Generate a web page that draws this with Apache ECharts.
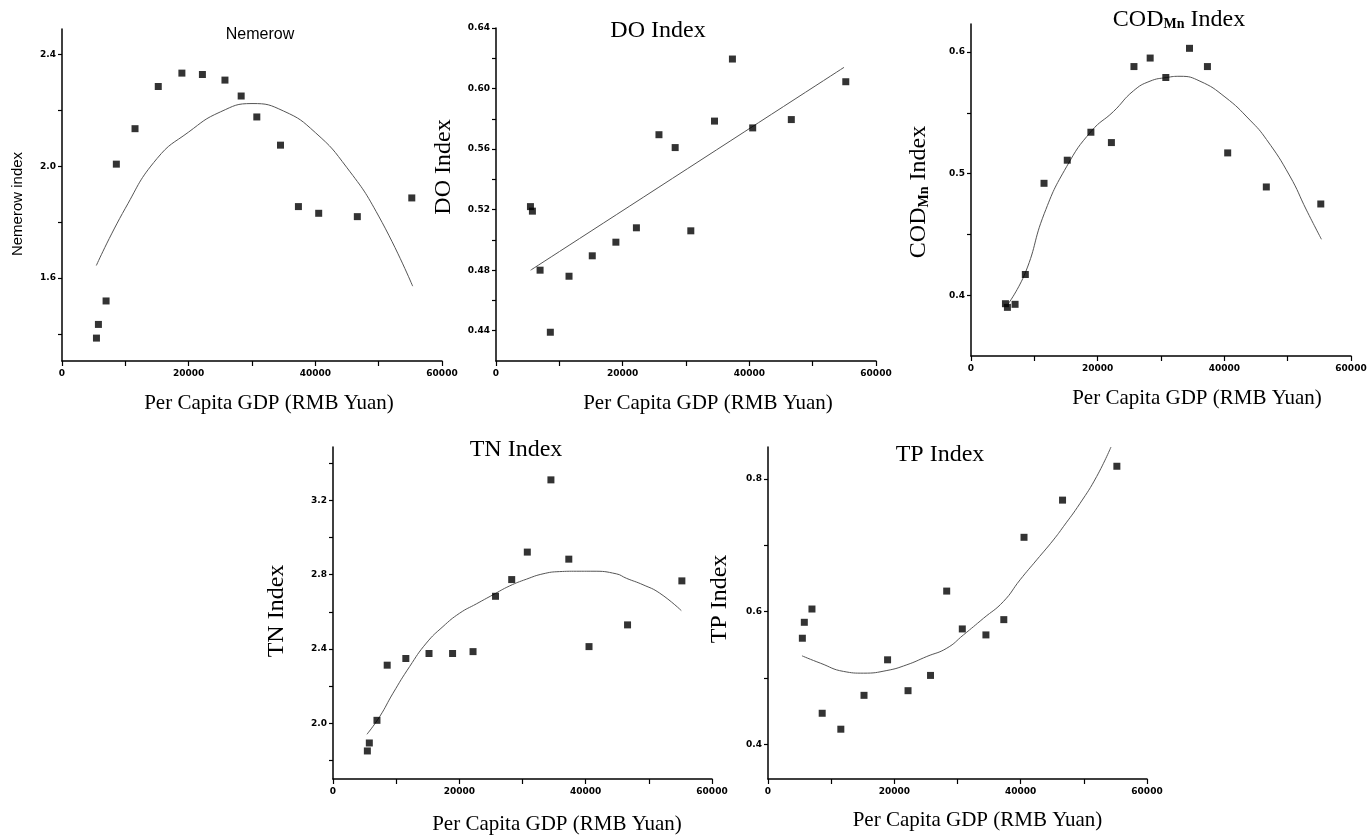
<!DOCTYPE html>
<html>
<head>
<meta charset="utf-8">
<title>Water quality indices vs per capita GDP</title>
<script src="https://cdn.jsdelivr.net/npm/echarts@6/dist/echarts.min.js"></script>
<style>
	html, body { margin: 0; padding: 0; background: #fff; }
	#main { width: 1372px; height: 838px; }
</style>
</head>
<body>
<div id="main"></div>
<script>
// per capita GDP (RMB Yuan), shared by all five panels
var gdp = [5440, 5750, 6960, 8580, 11530, 15200, 18930, 22170, 25730, 28290, 30760, 34500, 37330, 40530, 46630, 55230];

var nemerow = [1.385, 1.434, 1.518, 2.008, 2.135, 2.286, 2.334, 2.329, 2.309, 2.252, 2.177, 2.076, 1.856, 1.832, 1.820, 1.887];
var doIndex = [0.522, 0.519, 0.480, 0.439, 0.476, 0.4895, 0.4985, 0.508, 0.5695, 0.561, 0.506, 0.5785, 0.6195, 0.574, 0.5795, 0.6045];
var codIndex = [0.393, 0.390, 0.3925, 0.417, 0.492, 0.511, 0.534, 0.5255, 0.588, 0.595, 0.579, 0.603, 0.588, 0.517, 0.489, 0.475];
var tnIndex = [1.851, 1.894, 2.016, 2.313, 2.349, 2.376, 2.376, 2.386, 2.684, 2.774, 2.922, 3.311, 2.884, 2.413, 2.530, 2.767];
var tpIndex = [0.560, 0.584, 0.604, 0.447, 0.423, 0.474, 0.5275, 0.481, 0.504, 0.631, 0.574, 0.565, 0.588, 0.712, 0.768, 0.819];

// fitted curves
var nemerowFitX = [5420, 10000, 15000, 20000, 25000, 30000, 35000, 40000, 45000, 50000, 55370];
var nemerowFitY = [1.645, 1.850, 2.028, 2.123, 2.195, 2.225, 2.198, 2.121, 1.995, 1.822, 1.571];
var doFitX = [5470, 54950];
var doFitY = [0.480, 0.614];
var codFitX = [5890, 8620, 11560, 15130, 19020, 22490, 25640, 28270, 30900, 33000, 36150, 40100, 44040, 46660, 50340, 52970, 55330];
var codFitY = [0.393, 0.419, 0.467, 0.506, 0.535, 0.551, 0.568, 0.576, 0.579, 0.580, 0.576, 0.563, 0.544, 0.528, 0.498, 0.470, 0.446];
var tnFitX = [5380, 7390, 9500, 12140, 14780, 17410, 20050, 22690, 25330, 27970, 30610, 33250, 35880, 38520, 41160, 44850, 46440, 49080, 51720, 55140];
var tnFitY = [1.941, 2.036, 2.162, 2.306, 2.432, 2.521, 2.593, 2.643, 2.692, 2.740, 2.776, 2.805, 2.817, 2.819, 2.819, 2.805, 2.781, 2.746, 2.701, 2.607];
var tpFitX = [5380, 8280, 11970, 15130, 18820, 21980, 25140, 28310, 30940, 34110, 37270, 39910, 42540, 45180, 46760, 49390, 52030, 54300];
var tpFitY = [0.5335, 0.5225, 0.510, 0.5074, 0.5114, 0.520, 0.5325, 0.545, 0.565, 0.590, 0.6153, 0.648, 0.678, 0.708, 0.728, 0.763, 0.8035, 0.848];

// y axis ticks and labels
var nemerowTicks = [1.4, 1.6, 1.8, 2.0, 2.2, 2.4];
var nemerowLabels = [1.6, 2.0, 2.4];
var doTicks = [0.44, 0.46, 0.48, 0.50, 0.52, 0.54, 0.56, 0.58, 0.60, 0.62, 0.64];
var doLabels = [0.44, 0.48, 0.52, 0.56, 0.60, 0.64];
var codTicks = [0.40, 0.45, 0.50, 0.55, 0.60];
var codLabels = [0.4, 0.5, 0.6];
var tnTicks = [1.8, 2.0, 2.2, 2.4, 2.6, 2.8, 3.0, 3.2, 3.4];
var tnLabels = [2.0, 2.4, 2.8, 3.2];
var tpTicks = [0.4, 0.5, 0.6, 0.7, 0.8];
var tpLabels = [0.4, 0.6, 0.8];

var chart = echarts.init(document.getElementById('main'));

var serif = '"Liberation Serif", "Times New Roman", serif';
var sans = '"Liberation Sans", Arial, sans-serif';
var tickFont = {
	color: '#000',
	fontSize: 9,
	fontWeight: 'bold',
	fontFamily: '"DejaVu Sans", sans-serif'
};

function pairs(xs, ys) {
	var out = [];
	for (var i = 0; i < xs.length; i++) {
		out.push([xs[i], ys[i]]);
	}
	return out;
}

function xAxisFn(idx) {
	return {
		gridIndex: idx,
		type: 'value',
		min: 0,
		max: 60000,
		interval: 10000,
		axisLine: { show: true, onZero: false, lineStyle: { color: '#000', width: 1.5 } },
		axisTick: { show: true, length: 5, lineStyle: { color: '#000', width: 1.2 } },
		axisLabel: Object.assign({
			margin: 8,
			formatter: function(v) {
				return v % 20000 === 0 ? String(v) : '';
			}
		}, tickFont),
		splitLine: { show: false }
	};
}

function yAxisFn(idx, min, max, ticks, labels, digits) {
	return {
		gridIndex: idx,
		type: 'value',
		min: min,
		max: max,
		axisLine: { show: true, onZero: false, lineStyle: { color: '#000', width: 1.5 } },
		axisTick: { show: true, length: 4, customValues: ticks, lineStyle: { color: '#000', width: 1.2 } },
		axisLabel: Object.assign({
			margin: 6,
			customValues: labels,
			formatter: function(v) {
				return Number(v).toFixed(digits);
			}
		}, tickFont),
		splitLine: { show: false }
	};
}

function scatterFn(idx, ys) {
	return {
		type: 'scatter',
		xAxisIndex: idx,
		yAxisIndex: idx,
		symbol: 'rect',
		symbolSize: 7,
		itemStyle: { color: '#000' },
		data: pairs(gdp, ys),
		z: 3
	};
}

function fitFn(idx, xs, ys) {
	return {
		type: 'line',
		xAxisIndex: idx,
		yAxisIndex: idx,
		smooth: true,
		showSymbol: false,
		lineStyle: { color: '#555', width: 1 },
		data: pairs(xs, ys),
		z: 2
	};
}

function label(x, y, text, font, size, rotate) {
	return {
		type: 'text',
		x: x,
		y: y,
		rotation: rotate ? Math.PI / 2 : 0,
		style: {
			text: text,
			fontFamily: font,
			fontSize: size,
			fill: '#000',
			align: 'center',
			verticalAlign: 'middle'
		}
	};
}

function codLabel(x, y, rotate) {
	return {
		type: 'text',
		x: x,
		y: y,
		rotation: rotate ? Math.PI / 2 : 0,
		style: {
			text: '{a|COD}{b|Mn}{a| Index}',
			fill: '#000',
			align: 'center',
			verticalAlign: 'middle',
			rich: {
				a: { fontFamily: serif, fontSize: 24, lineHeight: 24, fill: '#000' },
				b: { fontFamily: serif, fontSize: 14, fontWeight: 'bold', lineHeight: 10, verticalAlign: 'bottom', fill: '#000' }
			}
		}
	};
}

var xName = 'Per Capita GDP (RMB Yuan)';

var option = {
	backgroundColor: '#fff',
	animation: false,
	grid: [
		{ left: 62, top: 29, width: 380, height: 332 },
		{ left: 496, top: 28, width: 380, height: 333 },
		{ left: 971, top: 24, width: 380, height: 332 },
		{ left: 333, top: 447, width: 379, height: 332 },
		{ left: 768, top: 447, width: 379, height: 332 }
	],
	xAxis: [xAxisFn(0), xAxisFn(1), xAxisFn(2), xAxisFn(3), xAxisFn(4)],
	yAxis: [
		yAxisFn(0, 1.303, 2.492, nemerowTicks, nemerowLabels, 1),
		yAxisFn(1, 0.42, 0.64, doTicks, doLabels, 2),
		yAxisFn(2, 0.35, 0.623, codTicks, codLabels, 1),
		yAxisFn(3, 1.70, 3.488, tnTicks, tnLabels, 1),
		yAxisFn(4, 0.348, 0.848, tpTicks, tpLabels, 1)
	],
	series: [
		fitFn(0, nemerowFitX, nemerowFitY), scatterFn(0, nemerow),
		fitFn(1, doFitX, doFitY), scatterFn(1, doIndex),
		fitFn(2, codFitX, codFitY), scatterFn(2, codIndex),
		fitFn(3, tnFitX, tnFitY), scatterFn(3, tnIndex),
		fitFn(4, tpFitX, tpFitY), scatterFn(4, tpIndex)
	],
	graphic: [
		label(260, 35, 'Nemerow', sans, 16),
		label(17.5, 204, 'Nemerow index', sans, 15, true),
		label(269, 403.5, xName, serif, 21),

		label(658, 30.5, 'DO Index', serif, 24),
		label(444, 167, 'DO Index', serif, 24, true),
		label(708, 403.5, xName, serif, 21),

		codLabel(1179, 19.5),
		codLabel(919, 192, true),
		label(1197, 398, xName, serif, 21),

		label(516, 450, 'TN Index', serif, 24),
		label(277, 611, 'TN Index', serif, 24, true),
		label(557, 824, xName, serif, 21),

		label(940, 455, 'TP Index', serif, 24),
		label(719.5, 599, 'TP Index', serif, 24, true),
		label(977.5, 820.5, xName, serif, 21)
	]
};

chart.setOption(option);
</script>
</body>
</html>
